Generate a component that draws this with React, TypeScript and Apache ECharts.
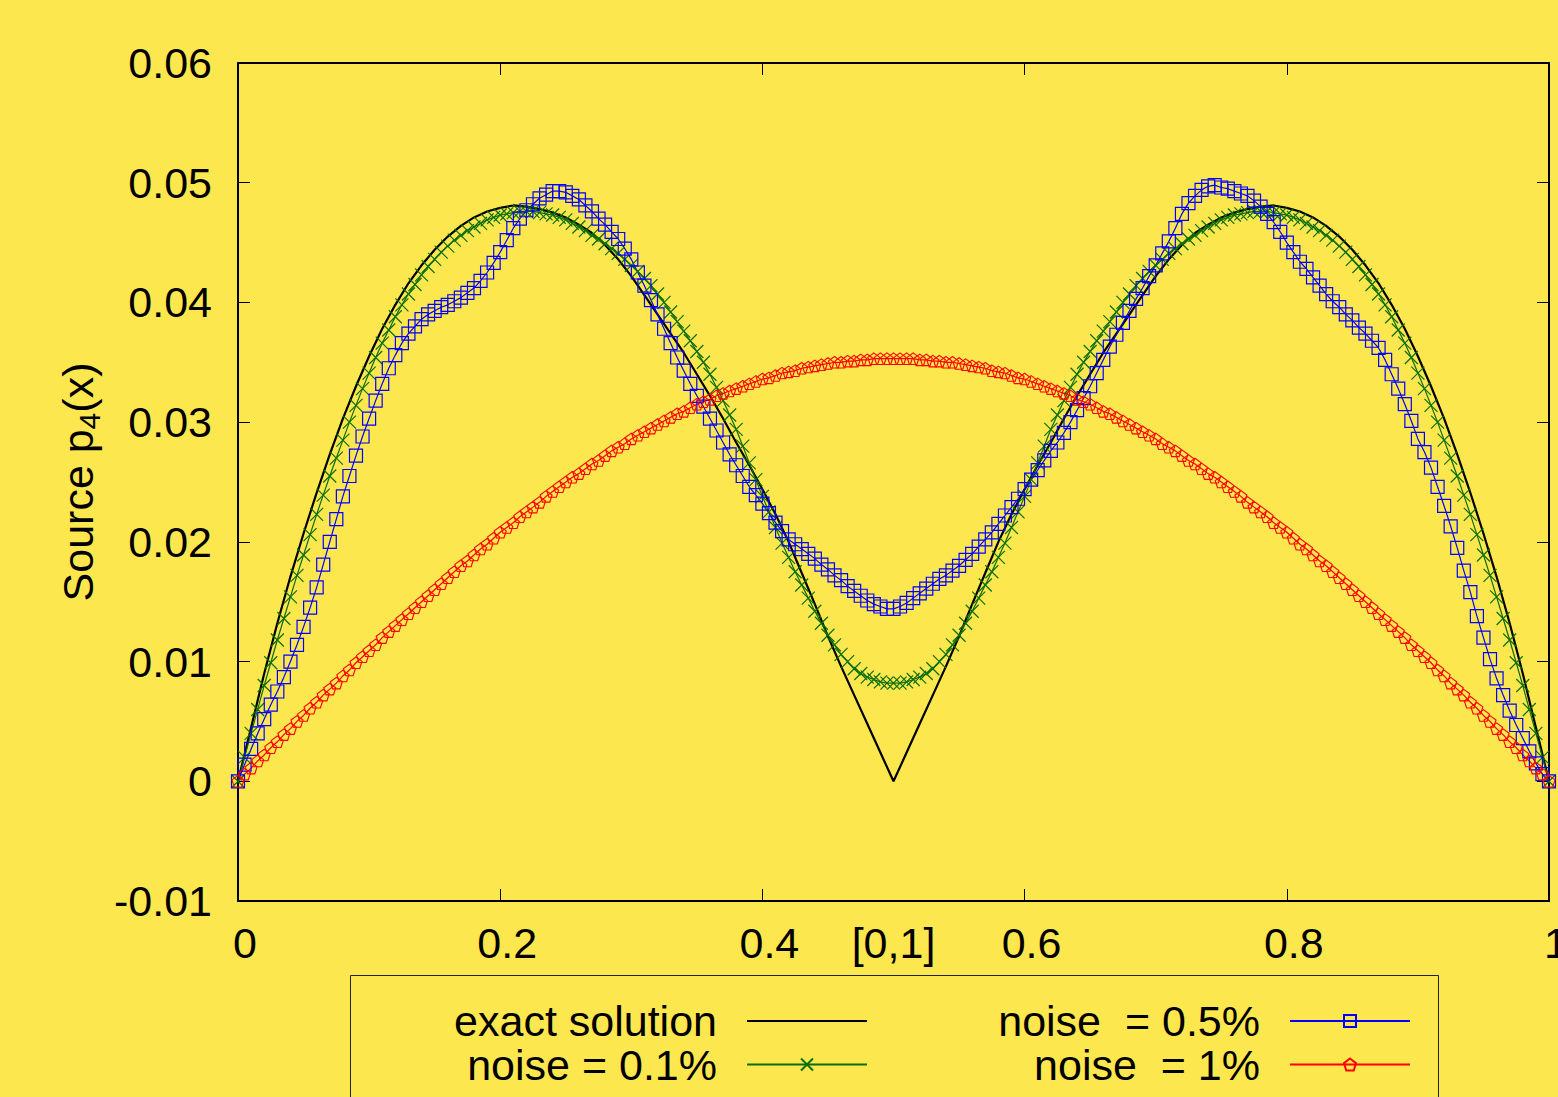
import React, { useEffect, useRef } from 'react';
import * as echarts from 'echarts';

const FONT = '"Liberation Sans", Arial, Helvetica, sans-serif';
const BG = '#FDE74E';
const GREEN = '#0b6e0b';
const BLUE = '#0000ff';
const RED = '#ff0000';

const SERIES_NAMES = ['exact solution', 'noise = 0.1%', 'noise  = 0.5%', 'noise  = 1%'];
const X_NAME = '[0,1]';

// values in units of 1e-3
const EXACT_STEP = 0.01;
const exactSolution = [
  0, 4.5, 9.0, 13.2, 17.1, 20.7, 24.1, 27.3, 30.3, 33.0,
  35.5, 37.8, 39.8, 41.6, 43.1, 44.4, 45.5, 46.4, 47.1, 47.6,
  47.9, 48.1, 48.0, 47.8, 47.5, 47.1, 46.5, 45.8, 44.8, 43.6,
  42.2, 40.6, 39.0, 37.4, 35.8, 34.0, 32.2, 30.3, 28.3, 26.4,
  24.4, 22.3, 20.0, 17.4, 14.8, 12.1, 9.6, 7.2, 4.8, 2.4,
  0,
  2.4, 4.8, 7.2, 9.6, 12.1, 14.8, 17.4, 20.0, 22.3, 24.4,
  26.4, 28.3, 30.3, 32.2, 34.0, 35.8, 37.4, 39.0, 40.6, 42.2,
  43.6, 44.8, 45.8, 46.5, 47.1, 47.5, 47.8, 48.0, 48.1, 47.9,
  47.6, 47.1, 46.4, 45.5, 44.4, 43.1, 41.6, 39.8, 37.8, 35.5,
  33.0, 30.3, 27.3, 24.1, 20.7, 17.1, 13.2, 9.0, 4.5, 0,
];

const NOISY_STEP = 0.005;
const noise01 = [
  0, 2.0, 4.0, 6.0, 8.0, 9.9, 11.8, 13.6, 15.4, 17.2,
  18.9, 20.6, 22.3, 23.9, 25.5, 27.0, 28.5, 30.0, 31.4, 32.8,
  34.1, 35.4, 36.6, 37.7, 38.8, 39.8, 40.7, 41.5, 42.3, 43.0,
  43.6, 44.2, 44.7, 45.2, 45.6, 46.0, 46.3, 46.6, 46.9, 47.1,
  47.3, 47.4, 47.5, 47.6, 47.6, 47.6, 47.5, 47.4, 47.3, 47.1,
  46.9, 46.6, 46.3, 46.0, 45.6, 45.3, 44.9, 44.5, 44.1, 43.6,
  43.1, 42.6, 42.0, 41.4, 40.7, 40.0, 39.2, 38.4, 37.6, 36.8,
  35.9, 35.0, 34.0, 32.9, 31.8, 30.6, 29.4, 28.0, 26.6, 25.2,
  23.8, 22.5, 21.2, 19.9, 18.7, 17.5, 16.4, 15.3, 14.2, 13.2,
  12.2, 11.4, 10.6, 10.0, 9.4, 9.0, 8.7, 8.5, 8.3, 8.2,
  8.2,
  8.2, 8.3, 8.5, 8.7, 9.0, 9.4, 10.0, 10.6, 11.4, 12.2,
  13.2, 14.2, 15.3, 16.4, 17.5, 18.7, 19.9, 21.2, 22.5, 23.8,
  25.2, 26.6, 28.0, 29.4, 30.6, 31.8, 32.9, 34.0, 35.0, 35.9,
  36.8, 37.6, 38.4, 39.2, 40.0, 40.7, 41.4, 42.0, 42.6, 43.1,
  43.6, 44.1, 44.5, 44.9, 45.3, 45.6, 46.0, 46.3, 46.6, 46.9,
  47.1, 47.3, 47.4, 47.5, 47.6, 47.6, 47.6, 47.5, 47.4, 47.3,
  47.1, 46.9, 46.6, 46.3, 46.0, 45.6, 45.2, 44.7, 44.2, 43.6,
  43.0, 42.3, 41.5, 40.7, 39.8, 38.8, 37.7, 36.6, 35.4, 34.1,
  32.8, 31.4, 30.0, 28.5, 27.0, 25.5, 23.9, 22.3, 20.6, 18.9,
  17.2, 15.4, 13.6, 11.8, 9.9, 8.0, 6.0, 4.0, 2.0, 0,
];

const noise05 = [
  0, 1.4, 2.7, 4.0, 5.2, 6.4, 7.5, 8.7, 10.0, 11.4,
  12.9, 14.5, 16.2, 18.1, 20.0, 21.9, 23.8, 25.5, 27.2, 28.8,
  30.3, 31.8, 33.2, 34.5, 35.6, 36.6, 37.4, 38.0, 38.6, 39.0,
  39.3, 39.6, 39.8, 40.1, 40.4, 40.8, 41.2, 41.8, 42.5, 43.3,
  44.2, 45.2, 46.2, 47.0, 47.7, 48.2, 48.7, 49.0, 49.3, 49.3,
  49.2, 48.9, 48.6, 48.1, 47.6, 47.0, 46.5, 45.9, 45.3, 44.5,
  43.6, 42.5, 41.4, 40.2, 39.0, 37.8, 36.6, 35.4, 34.3, 33.2,
  32.2, 31.3, 30.3, 29.3, 28.3, 27.3, 26.4, 25.5, 24.6, 23.9,
  23.2, 22.4, 21.6, 20.9, 20.2, 19.8, 19.4, 19.0, 18.6, 18.1,
  17.7, 17.2, 16.8, 16.3, 15.9, 15.5, 15.1, 14.8, 14.6, 14.4,
  14.4,
  14.6, 14.9, 15.3, 15.7, 16.1, 16.5, 16.9, 17.2, 17.6, 18.0,
  18.5, 19.0, 19.6, 20.2, 20.8, 21.5, 22.2, 22.9, 23.6, 24.4,
  25.2, 26.0, 26.8, 27.6, 28.3, 29.1, 30.0, 31.0, 32.0, 33.0,
  34.1, 35.2, 36.3, 37.3, 38.3, 39.3, 40.3, 41.2, 42.2, 43.1,
  44.1, 45.1, 46.2, 47.4, 48.3, 48.9, 49.4, 49.7, 49.8, 49.6,
  49.5, 49.3, 49.1, 48.9, 48.5, 48.0, 47.4, 46.7, 45.9, 45.0,
  44.2, 43.4, 42.8, 42.1, 41.4, 40.7, 40.1, 39.6, 39.0, 38.5,
  37.9, 37.4, 36.8, 36.2, 35.2, 34.0, 32.8, 31.5, 30.1, 28.6,
  27.5, 26.2, 24.6, 23.0, 21.3, 19.5, 17.6, 15.8, 13.8, 12.0,
  10.2, 8.6, 7.2, 5.9, 4.7, 3.6, 2.5, 1.5, 0.6, 0,
];

const noise1 = [
  0, 0.6, 1.1, 1.7, 2.2, 2.8, 3.3, 3.9, 4.4, 5.0,
  5.5, 6.1, 6.6, 7.2, 7.7, 8.2, 8.8, 9.3, 9.9, 10.4,
  10.9, 11.4, 12.0, 12.5, 13.0, 13.5, 14.0, 14.5, 15.0, 15.5,
  16.0, 16.5, 17.0, 17.5, 18.0, 18.4, 18.9, 19.4, 19.8, 20.3,
  20.8, 21.2, 21.6, 22.1, 22.5, 22.9, 23.3, 23.8, 24.2, 24.6,
  25.0, 25.4, 25.7, 26.1, 26.5, 26.8, 27.2, 27.6, 27.9, 28.2,
  28.6, 28.9, 29.2, 29.5, 29.8, 30.1, 30.4, 30.7, 30.9, 31.2,
  31.5, 31.7, 31.9, 32.2, 32.4, 32.6, 32.8, 33.0, 33.2, 33.4,
  33.6, 33.7, 33.9, 34.1, 34.2, 34.3, 34.5, 34.6, 34.7, 34.8,
  34.9, 35.0, 35.0, 35.1, 35.1, 35.2, 35.2, 35.3, 35.3, 35.3,
  35.3,
  35.3, 35.3, 35.3, 35.2, 35.2, 35.1, 35.1, 35.0, 35.0, 34.9,
  34.8, 34.7, 34.6, 34.5, 34.3, 34.2, 34.1, 33.9, 33.7, 33.6,
  33.4, 33.2, 33.0, 32.8, 32.6, 32.4, 32.2, 31.9, 31.7, 31.5,
  31.2, 30.9, 30.7, 30.4, 30.1, 29.8, 29.5, 29.2, 28.9, 28.6,
  28.2, 27.9, 27.6, 27.2, 26.8, 26.5, 26.1, 25.7, 25.4, 25.0,
  24.6, 24.2, 23.8, 23.3, 22.9, 22.5, 22.1, 21.6, 21.2, 20.8,
  20.3, 19.8, 19.4, 18.9, 18.4, 18.0, 17.5, 17.0, 16.5, 16.0,
  15.5, 15.0, 14.5, 14.0, 13.5, 13.0, 12.5, 12.0, 11.4, 10.9,
  10.4, 9.9, 9.3, 8.8, 8.2, 7.7, 7.2, 6.6, 6.1, 5.5,
  5.0, 4.4, 3.9, 3.3, 2.8, 2.2, 1.7, 1.1, 0.6, 0,
];

const Y_SCALE = 1000;
const toPairs = (vals: number[], step: number) =>
  vals.map((v, i) => [Number((i * step).toFixed(4)), v / Y_SCALE]);

const CROSS = 'path://M0,0L10,10M10,0L0,10';
const PENTAGON = 'path://M50,0L97.55,34.55L79.39,90.45L20.61,90.45L2.45,34.55Z';

export default function App() {
  const ref = useRef<HTMLDivElement>(null);
  useEffect(() => {
    if (!ref.current) return;
    const chart = echarts.init(ref.current, undefined, { renderer: 'svg' });
    const axisFont = { fontSize: 43, fontFamily: FONT, color: '#000' };
    const frameLine = { show: true, onZero: false, lineStyle: { color: '#000', width: 2 } };
    const tick = { show: true, inside: true, length: 12, lineStyle: { color: '#000', width: 1 } };
    const xBase = { type: 'value', min: 0, max: 1, interval: 0.2, splitLine: { show: false }, axisLine: frameLine, axisTick: tick };
    const yBase = { type: 'value', min: -0.01, max: 0.06, interval: 0.01, splitLine: { show: false }, axisLine: frameLine, axisTick: tick };
    const legendBase = {
      orient: 'horizontal', align: 'right', padding: 0, itemWidth: 120, itemHeight: 15,
      selectedMode: false,
      textStyle: { fontSize: 43, lineHeight: 40, fontFamily: FONT, color: '#000', padding: [0, 25, 0, 0] },
    };
    chart.setOption({
      animation: false,
      backgroundColor: BG,
      grid: { left: 238, right: 9, top: 63, bottom: 196, containLabel: false, outerBoundsMode: 'none' },
      xAxis: [
        {
          ...xBase, position: 'bottom',
          axisLabel: { ...axisFont, margin: 20, padding: [0, 0, 0, 14], formatter: (v: number) => String(Number(v.toFixed(2))) },
          name: X_NAME, nameLocation: 'middle', nameGap: 20, nameMoveOverlap: false, nameTextStyle: axisFont,
        },
        { ...xBase, position: 'top', axisLabel: { show: false } },
      ],
      yAxis: [
        {
          ...yBase, position: 'left',
          axisLabel: { ...axisFont, margin: 26, formatter: (v: number) => String(Number(v.toFixed(3))) },
          name: '{a|Source p}{b|4}{a|(x)}', nameLocation: 'middle', nameRotate: 90, nameGap: 134, nameMoveOverlap: false,
          nameTextStyle: {
            ...axisFont,
            rich: {
              a: { fontSize: 43, fontFamily: FONT, color: '#000', lineHeight: 52 },
              b: { fontSize: 30, fontFamily: FONT, color: '#000', lineHeight: 28, verticalAlign: 'bottom' },
            },
          },
        },
        { ...yBase, position: 'right', axisLabel: { show: false } },
      ],
      legend: [
        { ...legendBase, data: [{ name: SERIES_NAMES[0], itemStyle: { opacity: 0 } }], right: 690, top: 999.5 },
        { ...legendBase, data: [SERIES_NAMES[1]], right: 690, top: 1043 },
        { ...legendBase, data: [SERIES_NAMES[2]], right: 147, top: 999.5 },
        { ...legendBase, data: [SERIES_NAMES[3]], right: 147, top: 1043 },
      ],
      graphic: [
        {
          type: 'rect', z: -1, silent: true,
          shape: { x: 350.5, y: 975.5, width: 1088, height: 200 },
          style: { fill: 'none', stroke: '#222', lineWidth: 1 },
        },
      ],
      series: [
        {
          name: SERIES_NAMES[0], type: 'line', data: toPairs(exactSolution, EXACT_STEP),
          symbol: 'none', clip: false, silent: true,
          lineStyle: { color: '#000', width: 2.2 }, itemStyle: { color: 'none', borderWidth: 0 },
        },
        {
          name: SERIES_NAMES[1], type: 'line', data: toPairs(noise01, NOISY_STEP),
          symbol: CROSS, symbolSize: 13, clip: false, silent: true,
          lineStyle: { color: GREEN, width: 1.2 },
          itemStyle: { color: 'none', borderColor: GREEN, borderWidth: 1.2 },
        },
        {
          name: SERIES_NAMES[2], type: 'line', data: toPairs(noise05, NOISY_STEP),
          symbol: 'rect', symbolSize: 13, clip: false, silent: true,
          lineStyle: { color: BLUE, width: 1.2 },
          itemStyle: { color: 'none', borderColor: BLUE, borderWidth: 1.2 },
        },
        {
          name: SERIES_NAMES[3], type: 'line', data: toPairs(noise1, NOISY_STEP),
          symbol: PENTAGON, symbolSize: [12, 11.5], clip: false, silent: true,
          lineStyle: { color: RED, width: 1.2 },
          itemStyle: { color: 'none', borderColor: RED, borderWidth: 1.1 },
        },
      ],
    });
    return () => chart.dispose();
  }, []);
  return (
    <div
      ref={ref}
      style={{ position: 'fixed', left: 0, top: 0, width: 1558, height: 1097, background: BG }}
    />
  );
}
